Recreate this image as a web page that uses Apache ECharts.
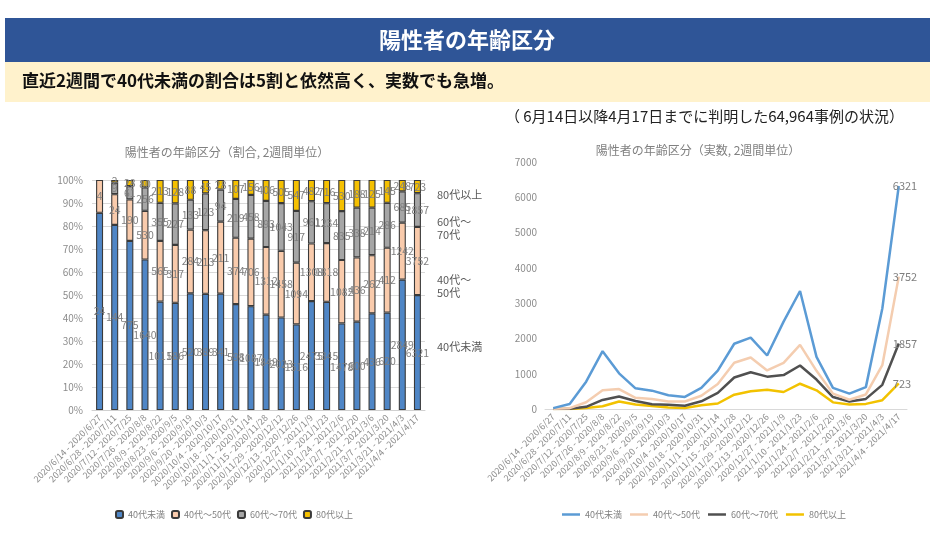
<!DOCTYPE html>
<html><head><meta charset="utf-8">
<script src="https://cdn.jsdelivr.net/npm/echarts@6/dist/echarts.min.js"></script>
<style>html,body{margin:0;padding:0;background:#fff}#c{width:934px;height:549px}</style>
</head><body><div id="c"></div>
<script>
const categories = ["2020/6/14 - 2020/6/27","2020/6/28 - 2020/7/11","2020/7/12 - 2020/7/25","2020/7/26 - 2020/8/8","2020/8/9 - 2020/8/22","2020/8/23 - 2020/9/5","2020/9/6 - 2020/9/19","2020/9/20 - 2020/10/3","2020/10/4 - 2020/10/17","2020/10/18 - 2020/10/31","2020/11/1 - 2020/11/14","2020/11/15 - 2020/11/28","2020/11/29 - 2020/12/12","2020/12/13 - 2020/12/26","2020/12/27 - 2021/1/9","2021/1/10 - 2021/1/23","2021/1/24 - 2021/2/6","2021/2/7 - 2021/2/20","2021/2/21 - 2021/3/6","2021/3/7 - 2021/3/20","2021/3/21 - 2021/4/3","2021/4/4 - 2021/4/17"];
const groupNames = ["40代未満","40代～50代","60代～70代","80代以上"];
const under40 = [24,144,775,1640,1011,586,520,389,341,598,1087,1849,2023,1516,2475,3345,1478,600,436,620,2849,6321];
const age40to50 = [4,24,190,530,565,317,284,213,211,374,706,1312,1458,1094,1308,1818,1082,436,262,412,1242,3752];
const age60to70 = [0,9,61,256,355,227,133,123,94,219,458,893,1043,917,961,1234,835,338,214,286,685,1857];
const age80plus = [0,2,28,80,213,128,88,45,28,107,156,406,505,547,482,716,530,188,125,145,248,723];
const pctTicks = [0,10,20,30,40,50,60,70,80,90,100];

const groups = [under40, age40to50, age60to70, age80plus];
const barColors = ['#4f86c6','#f9cbac','#a6a6a6','#f5c000'];
const lineColors = ['#5b9bd5','#f4cdb0','#505050','#f2c200'];
const FONT = '"Noto Sans CJK JP","Noto Sans",sans-serif';
const totals = categories.map((_, i) => groups.reduce((s, g) => s + g[i], 0));

const chart = echarts.init(document.getElementById('c'), null, {renderer:'canvas'});

const barSeries = groups.map((g, k) => ({
  name: groupNames[k], type: 'bar', stack: 'pct', xAxisIndex: 0, yAxisIndex: 0,
  barWidth: 7,
  itemStyle: {color: barColors[k], borderColor: '#3a3a3a', borderWidth: 1.1},
  label: {show: true, position: 'inside', color: '#7f7f7f', fontSize: 10.5, fontFamily: FONT,
    formatter: p => (p.data && p.data.count > 0) ? String(p.data.count) : ''},
  data: g.map((v, i) => v > 0 ? {value: v / totals[i] * 100, count: v} : '-')
}));

const lineSeries = groups.map((g, k) => ({
  name: 'line_' + groupNames[k], type: 'line', xAxisIndex: 1, yAxisIndex: 1,
  symbol: 'none', smooth: false,
  lineStyle: {color: lineColors[k], width: 2.5},
  itemStyle: {color: lineColors[k]},
  z: 10 - k,
  label: {show: false},
  endLabel: {show: true, color: '#7f7f7f', fontSize: 11, fontFamily: FONT, distance: -6,
    formatter: p => String(p.value)},
  data: g
}));

const axisLabelX = {rotate: 45, fontSize: 9, color: '#8c8c8c', fontFamily: FONT, interval: 0, margin: 6};

chart.setOption({
  animation: false,
  textStyle: {fontFamily: FONT},
  graphic: [
    {type: 'rect', shape: {x: 5, y: 18, width: 925, height: 44}, style: {fill: '#2f5597'}},
    {type: 'rect', shape: {x: 5, y: 62, width: 925, height: 40}, style: {fill: '#fff2cc'}},
    {type: 'text', x: 467, y: 40, style: {text: '陽性者の年齢区分', fill: '#fff', font: 'bold 22px ' + FONT, textAlign: 'center', textVerticalAlign: 'middle'}},
    {type: 'text', x: 22, y: 81, style: {text: '直近2週間で40代未満の割合は5割と依然高く、実数でも急増。', fill: '#111', font: 'bold 17px ' + FONT, textAlign: 'left', textVerticalAlign: 'middle'}},
    {type: 'text', x: 904, y: 116, style: {text: '（ 6月14日以降4月17日までに判明した64,964事例の状況）', fill: '#222', font: '15px ' + FONT, textAlign: 'right', textVerticalAlign: 'middle'}},
    {type: 'text', x: 227, y: 152, style: {text: '陽性者の年齢区分（割合, 2週間単位）', fill: '#808080', font: '12px ' + FONT, textAlign: 'center', textVerticalAlign: 'middle'}},
    {type: 'text', x: 698, y: 150, style: {text: '陽性者の年齢区分（実数, 2週間単位）', fill: '#808080', font: '12px ' + FONT, textAlign: 'center', textVerticalAlign: 'middle'}},
    {type: 'text', x: 437, y: 195, style: {text: '80代以上', fill: '#595959', font: '11px ' + FONT, textVerticalAlign: 'middle'}},
    {type: 'text', x: 437, y: 228, style: {text: '60代～\n70代', fill: '#595959', font: '11px ' + FONT, lineHeight: 13, textVerticalAlign: 'middle'}},
    {type: 'text', x: 437, y: 286, style: {text: '40代～\n50代', fill: '#595959', font: '11px ' + FONT, lineHeight: 13, textVerticalAlign: 'middle'}},
    {type: 'text', x: 437, y: 347, style: {text: '40代未満', fill: '#595959', font: '11px ' + FONT, textVerticalAlign: 'middle'}}
  ],
  legend: [
    {data: groupNames, left: 110, top: 505, itemWidth: 7, itemHeight: 7, itemGap: 6,
      textStyle: {fontSize: 9, color: '#7f7f7f', fontFamily: FONT}},
    {data: groupNames.map(n => 'line_' + n), left: 557, top: 505, icon: 'rect', itemWidth: 18, itemHeight: 2.5, itemGap: 8,
      formatter: n => n.replace('line_', ''),
      textStyle: {fontSize: 9, color: '#7f7f7f', fontFamily: FONT}}
  ],
  grid: [
    {left: 92, right: 509, top: 180, bottom: 139, containLabel: false},
    {left: 545, right: 27, top: 162, bottom: 140, containLabel: false}
  ],
  xAxis: [
    {type: 'category', gridIndex: 0, data: categories, boundaryGap: true,
      axisLine: {lineStyle: {color: '#d0d0d0'}}, axisTick: {show: false}, axisLabel: axisLabelX},
    {type: 'category', gridIndex: 1, data: categories, boundaryGap: true,
      axisLine: {lineStyle: {color: '#d9d9d9'}}, axisTick: {show: false}, axisLabel: axisLabelX}
  ],
  yAxis: [
    {type: 'value', gridIndex: 0, min: 0, max: 100, interval: 10,
      axisLine: {show: false}, axisTick: {show: false},
      splitLine: {lineStyle: {color: '#d9d9d9'}},
      axisLabel: {formatter: v => pctTicks.includes(v) ? v + '%' : '', fontSize: 10, color: '#8c8c8c', margin: 9}},
    {type: 'value', gridIndex: 1, min: 0, max: 7000, interval: 1000,
      axisLine: {show: false}, axisTick: {show: false}, splitLine: {show: false},
      axisLabel: {formatter: v => String(v), fontSize: 10, color: '#8c8c8c', margin: 8}}
  ],
  series: barSeries.concat(lineSeries)
});
</script></body></html>
